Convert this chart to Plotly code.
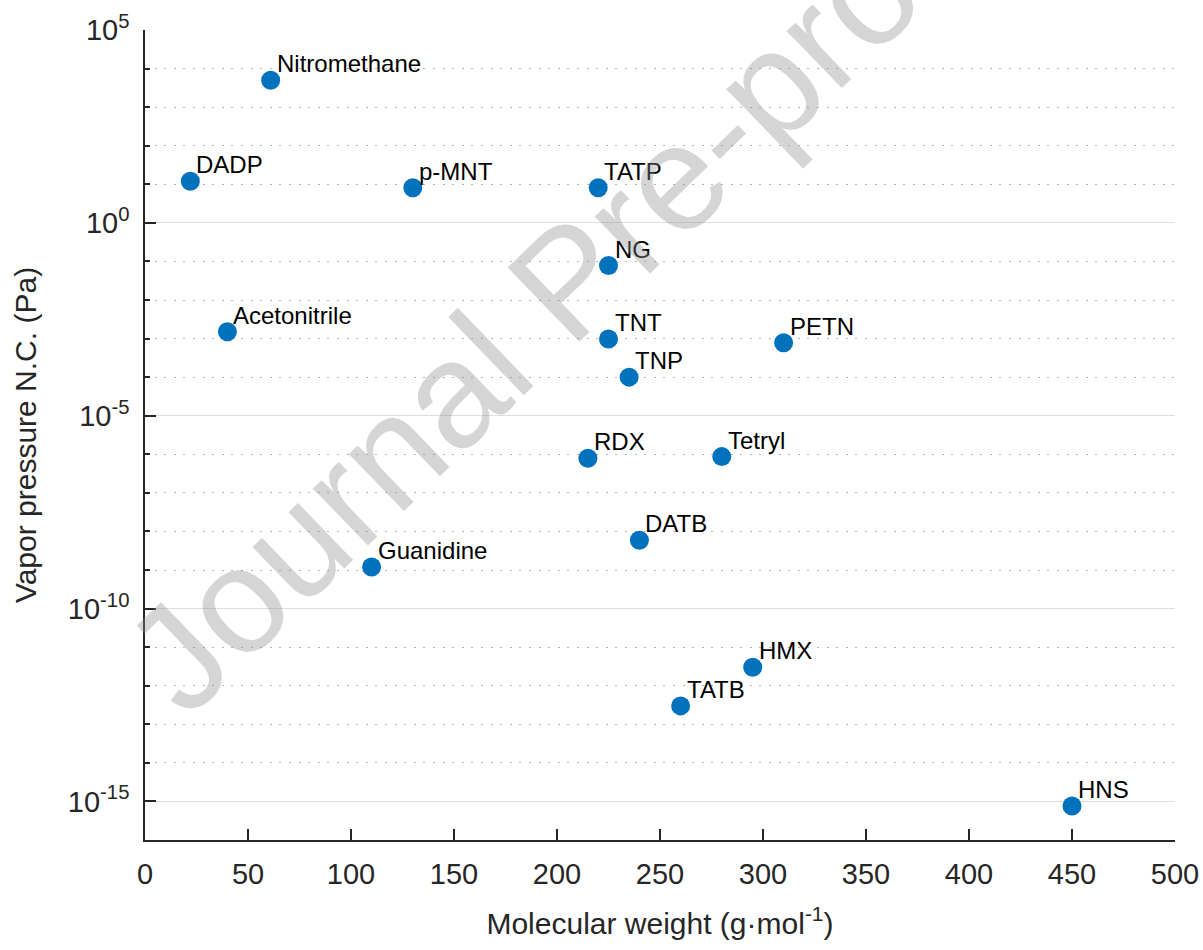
import math
import plotly.graph_objects as go

# Compounds, molecular weight (g/mol) and vapour pressure at normal conditions (Pa)
compounds = ["Nitromethane", "DADP", "p-MNT", "TATP", "NG", "Acetonitrile", "TNT", "PETN",
             "TNP", "RDX", "Tetryl", "DATB", "Guanidine", "HMX", "TATB", "HNS"]
mol_weight = [61, 22, 130, 220, 225, 40, 225, 310, 235, 215, 280, 240, 110, 295, 260, 450]
vapor_pressure = [5.0e3, 12, 8.1, 8.1, 7.8e-2, 1.5e-3, 9.8e-4, 7.8e-4, 1.0e-4, 7.9e-7,
                  8.7e-7, 5.9e-9, 1.2e-9, 3.0e-12, 3.0e-13, 7.6e-16]

x_ticks = [0, 50, 100, 150, 200, 250, 300, 350, 400, 450, 500]
y_exponents = [-15, -10, -5, 0, 5]
decades = list(range(-16, 6))

FONT = "Liberation Sans, Arial, Helvetica, sans-serif"
AXIS_COLOR = "#262626"
BLUE = "#0072BD"

fig = go.Figure()
fig.add_trace(go.Scatter(
    x=mol_weight, y=vapor_pressure, mode="markers",
    marker=dict(size=19, color=BLUE, line=dict(width=0)),
    hovertext=compounds, showlegend=False,
))

# Compound name next to each point (annotation y on a log axis is given in log10 units)
for name, mw, vp in zip(compounds, mol_weight, vapor_pressure):
    fig.add_annotation(
        x=mw, y=math.log10(vp), xref="x", yref="y", text=name, showarrow=False,
        xanchor="left", yanchor="bottom", xshift=4, yshift=1,
        font=dict(family=FONT, size=24, color="#000000"),
    )

# Watermark
fig.add_annotation(
    text="Journal Pre-proof", xref="paper", yref="paper", x=0.41, y=0.69,
    xanchor="center", yanchor="middle", textangle=-44, showarrow=False,
    font=dict(family=FONT, size=150, color="rgba(140,140,140,0.37)"),
)

fig.update_xaxes(
    range=[0, 500], tickvals=x_ticks, ticktext=[str(v) for v in x_ticks],
    showgrid=False, zeroline=False, automargin=False,
    showline=True, linecolor=AXIS_COLOR, linewidth=1.5,
    ticks="inside", ticklen=11, tickwidth=1.5, tickcolor=AXIS_COLOR,
    tickfont=dict(family=FONT, size=29, color=AXIS_COLOR),
    ticklabelstandoff=7,
    title=dict(text="Molecular weight (g·mol<sup>-1</sup>)", standoff=24,
               font=dict(family=FONT, size=30, color=AXIS_COLOR)),
)

fig.update_yaxes(
    type="log", range=[-16, 5], automargin=False,
    tickvals=[10.0 ** e for e in y_exponents],
    ticktext=[f"10<sup>{e}</sup>" for e in y_exponents],
    showgrid=True, gridcolor="#dedede", gridwidth=1.2,
    zeroline=False,
    showline=True, linecolor=AXIS_COLOR, linewidth=1.5,
    ticks="inside", ticklen=11, tickwidth=1.5, tickcolor=AXIS_COLOR,
    tickfont=dict(family=FONT, size=29, color=AXIS_COLOR),
    ticklabelstandoff=8,
    minor=dict(
        tickmode="array", tickvals=[10.0 ** d for d in decades],
        ticks="inside", ticklen=5, tickwidth=1.5, tickcolor=AXIS_COLOR,
        showgrid=True, gridcolor="#b4b4b4", gridwidth=1.4, griddash="2px,7.6px",
    ),
    title=dict(text="Vapor pressure N.C. (Pa)", standoff=22,
               font=dict(family=FONT, size=30, color=AXIS_COLOR)),
)

fig.update_layout(
    width=1203, height=950,
    margin=dict(l=145, r=28, t=30, b=110),
    paper_bgcolor="white", plot_bgcolor="white",
    font=dict(family=FONT),
)

fig.write_html("out.html")
